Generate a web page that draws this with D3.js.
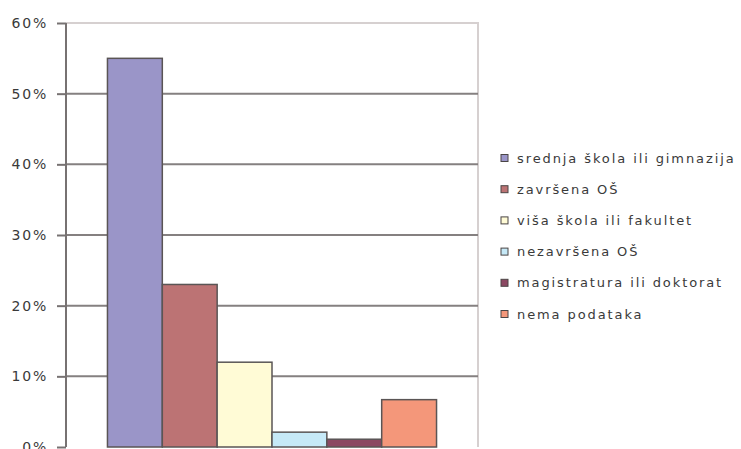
<!DOCTYPE html>
<meta charset="utf-8">

<script src="https://d3js.org/d3.v7.min.js"></script>

<style type="text/css">

body {
  margin:0;
  background:#fff;
}

text {
  font-family:"DejaVu Sans", sans-serif;
  fill:#3a3a3a;
}

</style>

<body>
</body>

<script>

var categories = ["srednja škola ili gimnazija", "završena OŠ", "viša škola ili fakultet",
                  "nezavršena OŠ", "magistratura ili doktorat", "nema podataka"];
var values = [55, 23, 12, 2.1, 1.1, 6.7];
var colors = ["#9a95c8", "#bc7374", "#fffbd6", "#c6e9f7", "#8b4862", "#f4977a"];
var yTicks = [0, 10, 20, 30, 40, 50, 60];

//variable definitions
var margin = {top: 23, right: 263, bottom: 2, left: 66};
var width = 741 - margin.left - margin.right,
    height = 449 - margin.top - margin.bottom;

var svg = d3.select('body').append('svg')
  .attr('width', 741)
  .attr('height', 449)
  .append('g')
  .attr("transform", "translate(" + margin.left + "," + margin.top + ")");

//scales
var yScale = d3.scaleLinear()
  .domain([0, 60])
  .range([height, 0]);

var groupScale = d3.scaleBand()
  .domain(["all"])
  .range([0, width])
  .paddingInner(0)
  .paddingOuter(0.126);

var xScale = d3.scaleBand()
  .domain(categories)
  .range([groupScale("all"), groupScale("all") + groupScale.bandwidth()])
  .padding(0);

//plot border (top, right)
svg.append('path')
  .attr('d', 'M0,0H' + width + 'V' + height)
  .attr('fill', 'none')
  .attr('stroke', '#d6d0d0')
  .attr('stroke-width', 2);

//gridlines
svg.selectAll('.grid')
  .data(yTicks.filter(function(d) { return d > 0 && d < 60; }))
  .enter().append('line')
  .attr('class', 'grid')
  .attr('x1', 0)
  .attr('x2', width)
  .attr('y1', function(d) { return yScale(d); })
  .attr('y2', function(d) { return yScale(d); })
  .attr('stroke', '#858080')
  .attr('stroke-width', 2);

//bars
svg.selectAll('.bar')
  .data(values)
  .enter().append('rect')
  .attr('class', 'bar')
  .attr('x', function(d, i) { return xScale(categories[i]); })
  .attr('width', xScale.bandwidth())
  .attr('y', function(d) { return yScale(d); })
  .attr('height', function(d) { return height - yScale(d); })
  .attr('fill', function(d, i) { return colors[i]; })
  .attr('stroke', '#5a5555')
  .attr('stroke-width', 1.5);

//y axis
var yAxis = d3.axisLeft(yScale)
  .tickValues(yTicks)
  .tickSize(9)
  .tickPadding(9)
  .tickFormat(function(d) { return d + '%'; });

var yg = svg.append('g')
  .attr('class', 'y axis')
  .call(yAxis);

yg.select('.domain').remove();
yg.append('line')
  .attr('x1', 0).attr('x2', 0)
  .attr('y1', 0).attr('y2', height)
  .attr('stroke', '#777272')
  .attr('stroke-width', 2);
yg.selectAll('.tick line')
  .attr('stroke', '#777272')
  .attr('stroke-width', 2);
yg.selectAll('.tick text')
  .style('font-family', '"DejaVu Sans", sans-serif')
  .style('font-size', '14px')
  .style('letter-spacing', '1.8px')
  .attr('fill', '#3a3a3a');

//legend
var legend = d3.select('svg').append('g')
  .attr('transform', 'translate(501,158)');

var legendItem = legend.selectAll('.legendItem')
  .data(categories)
  .enter().append('g')
  .attr('class', 'legendItem')
  .attr('transform', function(d, i) { return 'translate(0,' + (i * 31.2) + ')'; });

legendItem.append('rect')
  .attr('x', 0)
  .attr('y', -3.5)
  .attr('width', 7)
  .attr('height', 7)
  .attr('fill', function(d, i) { return colors[i]; })
  .attr('stroke', '#4a4545')
  .attr('stroke-width', 1);

legendItem.append('text')
  .attr('x', 16)
  .attr('dy', '0.35em')
  .style('font-size', '13px')
  .style('letter-spacing', '1.9px')
  .text(function(d) { return d; });

</script>
